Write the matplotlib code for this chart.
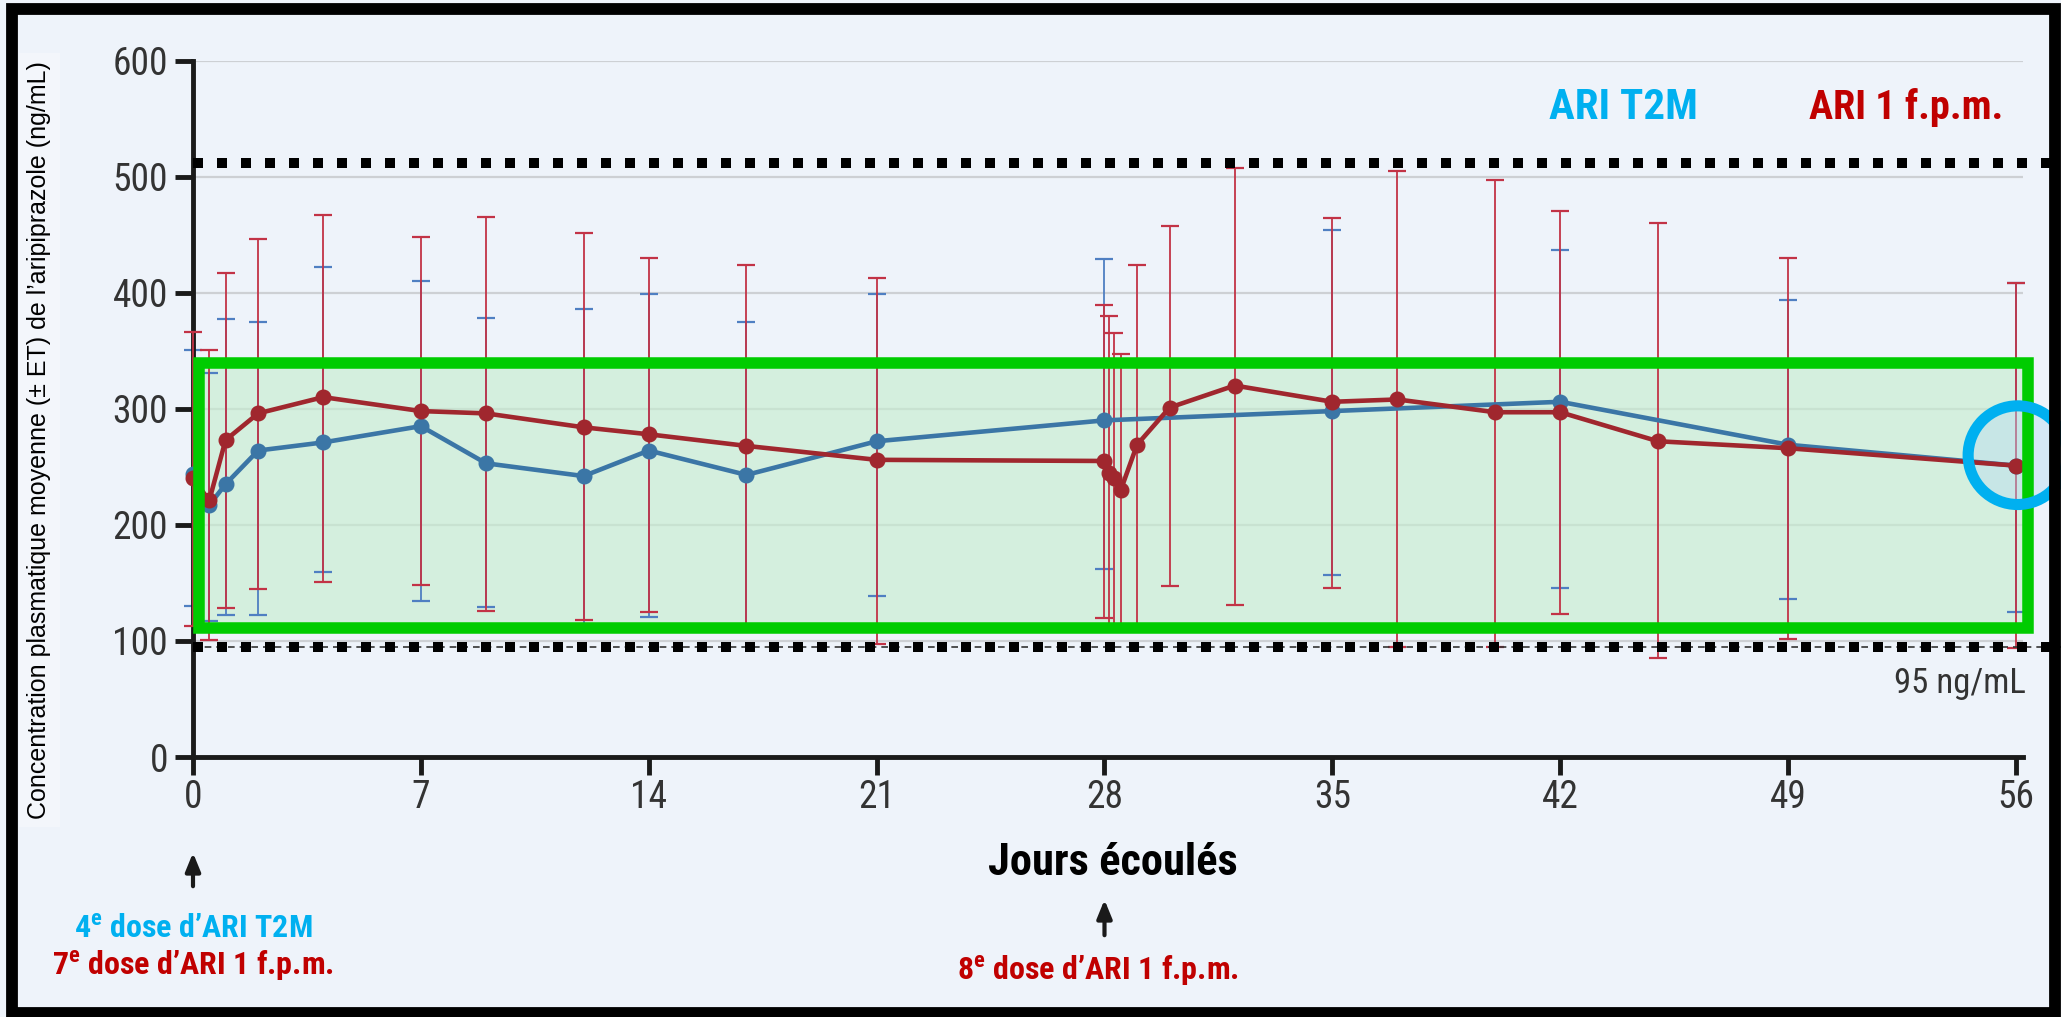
import numpy as np
import matplotlib
matplotlib.use('Agg')
import matplotlib.pyplot as plt
from matplotlib import font_manager as fm
from matplotlib.patches import Rectangle, Ellipse

# Data (mean +/- SD, ng/mL)
days_t2m = [0, 0.5, 1, 2, 4, 7, 9, 12, 14, 17, 21, 28, 35, 42, 49, 56]
conc_t2m = [244, 217, 235, 264, 271, 285, 253, 242, 264, 243, 272, 290, 298, 306, 269, 251]
up_t2m = [351, 331, 377, 375, 422, 410, 378, 386, 399, 375, 399, 429, 454, 437, 394, 408]
lo_t2m = [130, 117, 122, 122, 159, 134, 129, 112, 121, 112, 139, 162, 157, 146, 136, 125]

days_1m = [0, 0.5, 1, 2, 4, 7, 9, 12, 14, 17, 21, 28, 28.15, 28.3, 28.5, 29, 30, 32,
           35, 37, 40, 42, 45, 49, 56]
conc_1m = [240, 221, 273, 296, 310, 298, 296, 284, 278, 268, 256, 255, 245, 240, 230, 269,
           301, 320, 306, 308, 297, 297, 272, 266, 251]
up_1m = [366, 351, 417, 446, 467, 448, 465, 451, 430, 424, 413, 389, 380, 365, 347, 424,
         457, 507, 464, 505, 497, 470, 460, 430, 408]
lo_1m = [113, 101, 128, 145, 151, 148, 126, 118, 125, 112, 97, 120, 112, 112, 112, 112,
         147, 131, 146, 95, 95, 123, 85, 102, 94]

xticks = [0, 7, 14, 21, 28, 35, 42, 49, 56]
yticks = [0, 100, 200, 300, 400, 500, 600]
seuil_haut = 512
seuil_bas = 95
band = (0.17, 56.37, 111.5, 339.5)   # x0, x1, y0, y1 of green box

# Colours / fonts
bg = '#eef3fa'
c_blue = '#3b76a6'
c_blue_err = '#4f7fc2'
c_red = '#a0272e'
c_red_err = '#c23346'
c_t2m_txt = '#00b0f0'
c_1m_txt = '#c00000'

# pick a narrow font if one is installed
names = {f.name for f in fm.fontManager.ttflist}
narrow = 'Liberation Sans'
for cand in ['Liberation Sans Narrow', 'Roboto Condensed', 'DejaVu Sans Condensed',
             'Open Sans Condensed', 'Noto Sans Condensed']:
    if cand in names:
        narrow = cand
        break

plt.rcParams['mathtext.fontset'] = 'custom'
plt.rcParams['mathtext.rm'] = narrow
plt.rcParams['mathtext.bf'] = narrow + ':bold'

fig = plt.figure(figsize=(20.61, 10.17), dpi=100, facecolor=bg)
ax = fig.add_axes([193/2061, 1-757/1017, (2022.5-193)/2061, (757-60.5)/1017])
ax.set_facecolor('none')

# frame around the whole picture
fig.add_artist(Rectangle((12/2061, 4/1017), (2055-12)/2061, (1013-8.5)/1017,
                         transform=fig.transFigure, fill=False, ec='black', lw=8.5))

# grid
for v in yticks[1:]:
    ax.axhline(v, color='#cdd0d4', lw=1.6, zorder=0)

# green target box (fill below, edge on top)
ax.add_patch(Rectangle((band[0], band[2]), band[1]-band[0], band[3]-band[2],
                       fc='#c6edd0', ec='none', alpha=0.65, zorder=1, clip_on=False))
ax.add_patch(Rectangle((band[0], band[2]), band[1]-band[0], band[3]-band[2],
                       fc='none', ec='#00cc00', lw=8.3, zorder=6, clip_on=False))

# error bars
d = np.array(days_t2m); c = np.array(conc_t2m)
ax.errorbar(d, c, yerr=[c-np.array(lo_t2m), np.array(up_t2m)-c], fmt='none',
            ecolor=c_blue_err, elinewidth=1.3, capsize=6.5, capthick=1.6, zorder=2, clip_on=False)
d2 = np.array(days_1m); c2 = np.array(conc_1m)
ax.errorbar(d2, c2, yerr=[c2-np.array(lo_1m), np.array(up_1m)-c2], fmt='none',
            ecolor=c_red_err, elinewidth=1.3, capsize=6.5, capthick=1.6, zorder=3, clip_on=False)

# highlight circle fill (under the curves)
ax.add_patch(Ellipse((56.05, 260), 3.04, 85, fc='#b8dcf0', alpha=0.45, ec='none',
                     zorder=3.5, clip_on=False))

# mean curves
ax.plot(days_t2m, conc_t2m, '-o', color=c_blue, lw=3.3, ms=10.5, zorder=4, clip_on=False)
ax.plot(days_1m, conc_1m, '-o', color=c_red, lw=3.3, ms=10.5, zorder=5, clip_on=False)

# threshold dotted lines
ax.plot([0, 1.03], [seuil_haut]*2, color='black', lw=7.2, ls=(0, (1.0, 1.4)),
        dash_capstyle='butt', transform=ax.get_yaxis_transform(), clip_on=False, zorder=7)
ax.plot([0, 1.03], [seuil_bas]*2, color='#333333', lw=1.2, ls=(0, (4, 3)),
        transform=ax.get_yaxis_transform(), clip_on=False, zorder=7)
ax.plot([0, 1.03], [seuil_bas]*2, color='black', lw=7.2, ls=(0, (1.0, 1.4)),
        dash_capstyle='butt', transform=ax.get_yaxis_transform(), clip_on=False, zorder=7)

# highlight circle ring
ax.add_patch(Ellipse((56.05, 260), 3.04, 85, fc='none', ec=c_t2m_txt, lw=8,
                     zorder=8, clip_on=False))

# axes styling
ax.set_xlim(0, 56.2)
ax.set_ylim(0, 600)
ax.set_xticks(xticks)
ax.set_yticks(yticks)
for s in ['top', 'right']:
    ax.spines[s].set_visible(False)
for s in ['left', 'bottom']:
    ax.spines[s].set_linewidth(3.5)
    ax.spines[s].set_color('#1a1a1a')
ax.tick_params(axis='both', length=13, width=3.5, color='#1a1a1a', labelsize=27,
               labelcolor='#333333', direction='out')
ax.tick_params(axis='x', pad=3)
ax.tick_params(axis='y', pad=5)
for lab in ax.get_xticklabels() + ax.get_yticklabels():
    lab.set_fontfamily(narrow)

# texts
fig.text(39.5/2061, 1-440/1017,
         'Concentration plasmatique moyenne (± ET) de l’aripiprazole (ng/mL)',
         rotation=90, ha='center', va='center', fontsize=18, family='Liberation Sans',
         color='black', bbox=dict(fc='#f3f6fb', ec='none', pad=6))
fig.text(1623/2061, 1-108/1017, 'ARI T2M', ha='center', va='center', fontsize=31,
         family=narrow, weight='bold', color=c_t2m_txt)
fig.text(1906/2061, 1-108/1017, 'ARI 1 f.p.m.', ha='center', va='center', fontsize=29,
         family=narrow, weight='bold', color=c_1m_txt)
fig.text(1960/2061, 1-683/1017, '95 ng/mL', ha='center', va='center', fontsize=25,
         family=narrow, color='#333333')
fig.text(1113/2061, 1-863/1017, 'Jours écoulés', ha='center', va='center', fontsize=32,
         family=narrow, weight='bold', color='black')

arrow = dict(arrowstyle='-|>,head_width=0.45,head_length=1.1', color='#1a1a1a', lw=3)
ax.annotate('', xy=(0, 1-850/1017), xytext=(0, 1-889/1017),
            xycoords=('data', 'figure fraction'), textcoords=('data', 'figure fraction'),
            arrowprops=arrow, annotation_clip=False)
ax.annotate('', xy=(28, 1-897/1017), xytext=(28, 1-938/1017),
            xycoords=('data', 'figure fraction'), textcoords=('data', 'figure fraction'),
            arrowprops=arrow, annotation_clip=False)

ax.annotate('4$^{\\mathbf{e}}$ dose d’ARI T2M', xy=(0, 1-929/1017),
            xycoords=('data', 'figure fraction'), ha='center', va='center', fontsize=23,
            family=narrow, weight='bold', color=c_t2m_txt, annotation_clip=False)
ax.annotate('7$^{\\mathbf{e}}$ dose d’ARI 1 f.p.m.', xy=(0, 1-966/1017),
            xycoords=('data', 'figure fraction'), ha='center', va='center', fontsize=23,
            family=narrow, weight='bold', color=c_1m_txt, annotation_clip=False)
ax.annotate('8$^{\\mathbf{e}}$ dose d’ARI 1 f.p.m.', xy=(27.8, 1-971/1017),
            xycoords=('data', 'figure fraction'), ha='center', va='center', fontsize=23,
            family=narrow, weight='bold', color=c_1m_txt, annotation_clip=False)

fig.savefig('out.png', dpi=100, facecolor=bg)
plt.close(fig)
